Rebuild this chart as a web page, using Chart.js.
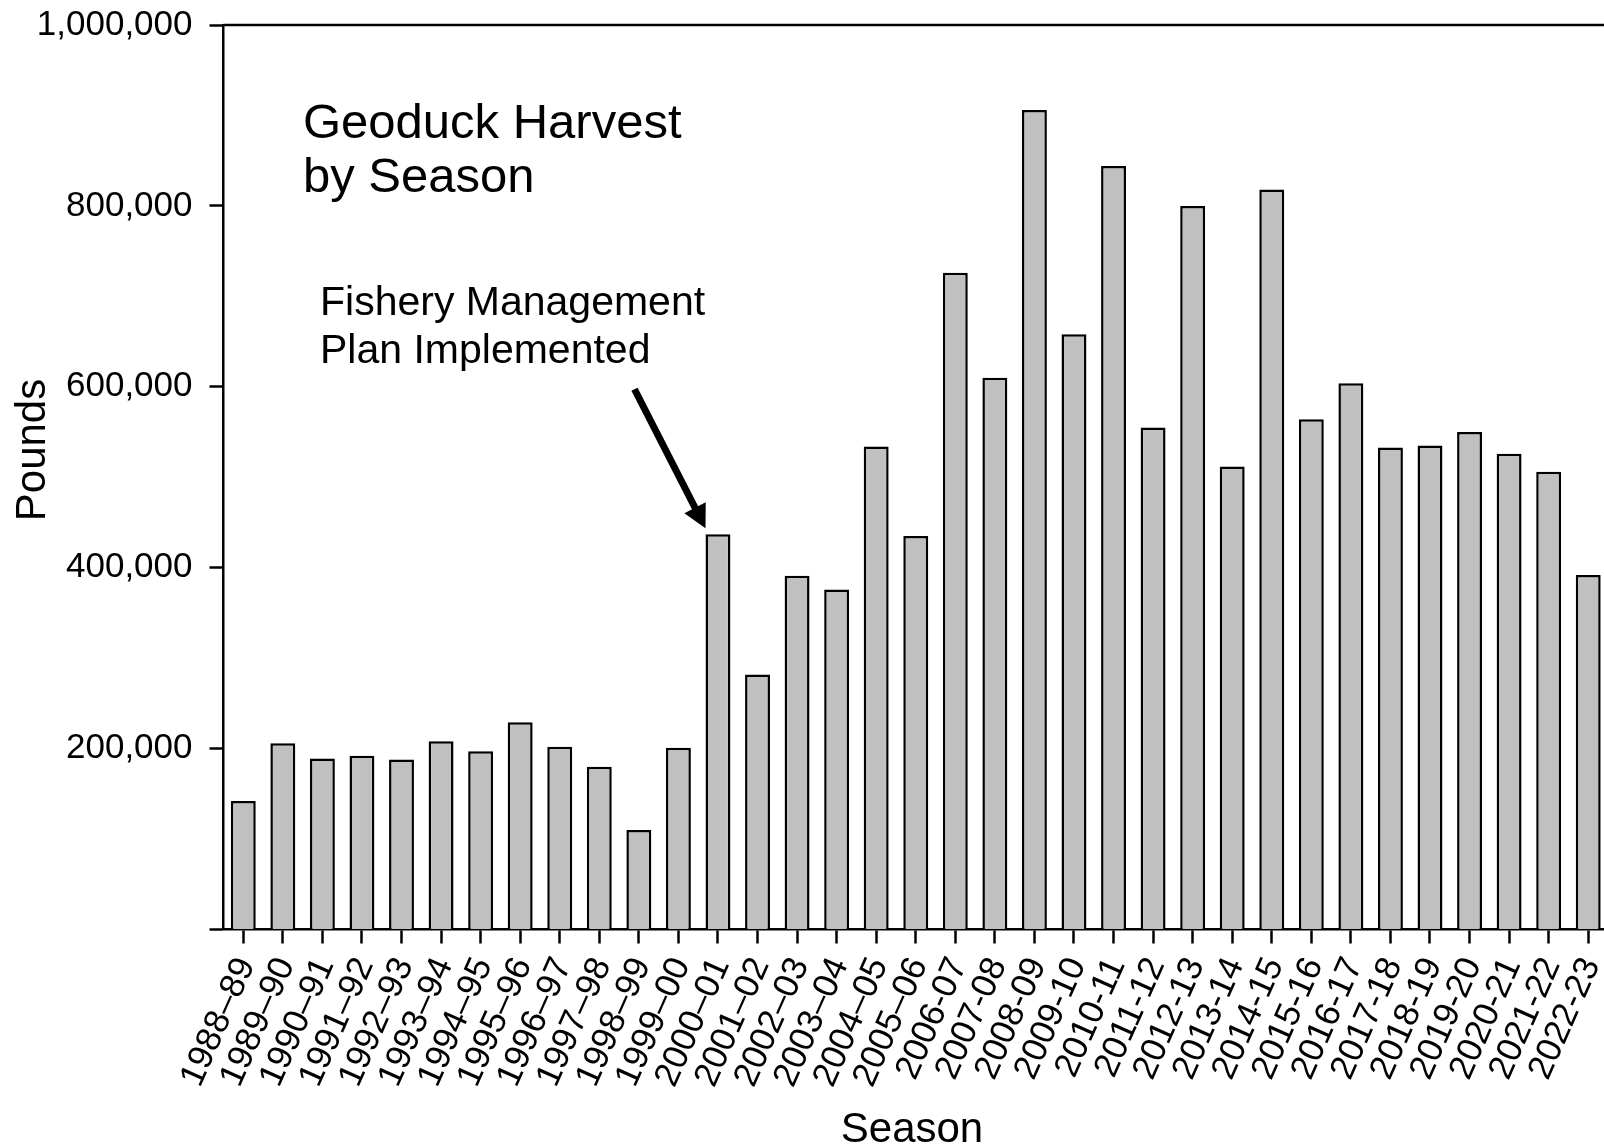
<!DOCTYPE html>
<html>
<head>
<meta charset="utf-8">
<title>Geoduck Harvest by Season</title>
<script src="https://cdn.jsdelivr.net/npm/chart.js@4/dist/chart.umd.min.js"></script>
<style>
    html, body { margin: 0; padding: 0; background: #fff; overflow: hidden; }
    #wrap { width: 1640px; height: 1144px; }
</style>
</head>
<body>
<div id="wrap"><canvas id="harvestChart" width="1640" height="1144"></canvas></div>
<script>
var seasons = [
    '1988–89', '1989–90', '1990–91', '1991–92', '1992–93', '1993–94', '1994–95',
    '1995–96', '1996–97', '1997–98', '1998–99', '1999–00', '2000–01', '2001–02',
    '2002–03', '2003–04', '2004–05', '2005–06', '2006-07', '2007-08', '2008-09',
    '2009-10', '2010-11', '2011-12', '2012-13', '2013-14', '2014-15', '2015-16',
    '2016-17', '2017-18', '2018-19', '2019-20', '2020-21', '2021-22', '2022-23'
];

var pounds = [
    142000, 206000, 189000, 192000, 188000, 208000, 197000,
    229000, 202000, 180000, 110000, 201000, 437000, 282000,
    391000, 376000, 534000, 435000, 726000, 610000, 906000,
    658000, 844000, 555000, 800000, 512000, 818000, 564000,
    604000, 533000, 535000, 550000, 526000, 506000, 392000
];

var yTicks = [0, 200000, 400000, 600000, 800000, 1000000];

var titleLines = ['Geoduck Harvest', 'by Season'];
var noteLines = ['Fishery Management', 'Plan Implemented'];
var noteSeason = '2000–01';

var fontFamily = "'Liberation Sans', Arial, Helvetica, sans-serif";
var lineW = 2.5;

// text, frame top and the arrow pointing at the first FMP season
var annotationPlugin = {
    id: 'geoduckAnnotations',
    afterDraw: function (chart) {
        var ctx = chart.ctx;
        var area = chart.chartArea;

        ctx.save();
        ctx.strokeStyle = '#000';
        ctx.lineWidth = lineW;
        ctx.beginPath();
        ctx.moveTo(area.left, area.top);
        ctx.lineTo(area.right, area.top);
        ctx.stroke();

        ctx.fillStyle = '#000';
        ctx.textAlign = 'left';
        ctx.textBaseline = 'alphabetic';
        ctx.font = '49px ' + fontFamily;
        ctx.fillText(titleLines[0], 303, 138);
        ctx.fillText(titleLines[1], 303, 192);

        ctx.font = '41px ' + fontFamily;
        ctx.fillText(noteLines[0], 320, 315);
        ctx.fillText(noteLines[1], 320, 363);

        // axis titles
        ctx.font = '42px ' + fontFamily;
        ctx.textAlign = 'center';
        ctx.fillText('Season', 912, 1142);
        ctx.save();
        ctx.translate(45, 450);
        ctx.rotate(-Math.PI / 2);
        ctx.fillText('Pounds', 0, 0);
        ctx.restore();

        // arrow
        var bar = chart.getDatasetMeta(0).data[seasons.indexOf(noteSeason)];
        var tipX = bar.x - bar.width / 2;
        var tipY = bar.y - 6;
        var dx = 71, dy = 139;
        var len = Math.sqrt(dx * dx + dy * dy);
        var ux = dx / len, uy = dy / len;
        var headLen = 23, headHalf = 12;
        var baseX = tipX - ux * headLen, baseY = tipY - uy * headLen;

        ctx.lineWidth = 7;
        ctx.lineCap = 'butt';
        ctx.beginPath();
        ctx.moveTo(tipX - dx, tipY - dy);
        ctx.lineTo(baseX + ux * 2, baseY + uy * 2);
        ctx.stroke();

        ctx.beginPath();
        ctx.moveTo(tipX, tipY);
        ctx.lineTo(baseX - uy * headHalf, baseY + ux * headHalf);
        ctx.lineTo(baseX + uy * headHalf, baseY - ux * headHalf);
        ctx.closePath();
        ctx.fill();
        ctx.restore();
    }
};

var config = {
    type: 'bar',
    data: {
        labels: seasons,
        datasets: [{
            label: 'Pounds',
            data: pounds,
            backgroundColor: '#c0c0c0',
            borderColor: '#000',
            borderWidth: lineW,
            barPercentage: 0.63,
            categoryPercentage: 1
        }]
    },
    options: {
        responsive: false,
        animation: false,
        layout: {
            padding: { top: 25, right: 32, left: 0, bottom: 0 }
        },
        plugins: {
            legend: { display: false },
            tooltip: { enabled: false }
        },
        scales: {
            x: {
                offset: true,
                grid: {
                    offset: false,
                    drawOnChartArea: false,
                    drawTicks: true,
                    tickLength: 14,
                    tickWidth: lineW,
                    tickColor: '#000'
                },
                border: { display: true, color: '#000', width: lineW },
                ticks: {
                    autoSkip: false,
                    minRotation: 66,
                    maxRotation: 66,
                    padding: 8,
                    labelOffset: 3,
                    color: '#000',
                    font: { family: fontFamily, size: 35 }
                },
                afterFit: function (scale) {
                    scale.height = 214.5;
                }
            },
            y: {
                min: 0,
                max: 1000000,
                grid: {
                    drawOnChartArea: false,
                    drawTicks: true,
                    tickLength: 14,
                    tickWidth: lineW,
                    tickColor: '#000'
                },
                border: { display: true, color: '#000', width: lineW },
                ticks: {
                    padding: 17,
                    color: '#000',
                    font: { family: fontFamily, size: 35 },
                    callback: function (value) {
                        return value === 0 ? '' : value.toLocaleString('en-US');
                    }
                },
                afterBuildTicks: function (scale) {
                    scale.ticks = yTicks.map(function (v) { return { value: v }; });
                },
                afterFit: function (scale) {
                    scale.width = 223.5;
                    // let the top label overhang; the layout padding sets the top
                    scale.paddingTop = 0;
                    scale.paddingBottom = 0;
                }
            }
        }
    },
    plugins: [annotationPlugin]
};

var harvestChart = new Chart(document.getElementById('harvestChart'), config);
</script>
</body>
</html>
